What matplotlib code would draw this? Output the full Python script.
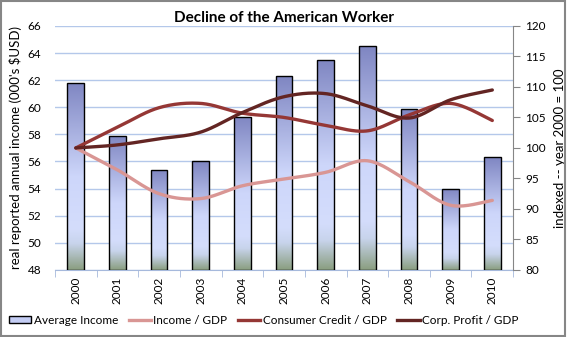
import numpy as np
import matplotlib
matplotlib.use("Agg")
import matplotlib.pyplot as plt
from matplotlib.colors import LinearSegmentedColormap
from matplotlib.patches import Rectangle
from matplotlib.lines import Line2D

plt.rcParams['font.family'] = ['Lato', 'DejaVu Sans']

years = ['2000', '2001', '2002', '2003', '2004', '2005', '2006', '2007', '2008', '2009', '2010']
avg_income = [61.8, 57.9, 55.4, 56.0, 59.3, 62.3, 63.5, 64.5, 59.9, 54.0, 56.3]
income_gdp = [100.0, 96.4, 92.5, 91.7, 93.8, 94.9, 96.0, 97.9, 94.5, 90.6, 91.4]
credit_gdp = [100.0, 103.4, 106.6, 107.3, 105.7, 105.0, 103.7, 102.8, 105.4, 107.3, 104.5]
profit_gdp = [100.0, 100.5, 101.5, 102.6, 105.8, 108.4, 108.9, 106.9, 104.9, 107.9, 109.5]


def smooth(xs, ys, n=30):
    """Bezier smoothing through every point (Catmull-Rom style tangents)."""
    p = np.column_stack([xs, ys]).astype(float)
    ext = np.vstack([p[0], p, p[-1]])
    out = []
    t = np.linspace(0, 1, n)[:, None]
    for i in range(len(p) - 1):
        p0, p1, p2, p3 = ext[i], ext[i + 1], ext[i + 2], ext[i + 3]
        c1 = p1 + (p2 - p0) / 6.0
        c2 = p2 - (p3 - p1) / 6.0
        seg = ((1 - t) ** 3) * p1 + 3 * ((1 - t) ** 2) * t * c1 + 3 * (1 - t) * t ** 2 * c2 + t ** 3 * p2
        out.append(seg if i == 0 else seg[1:])
    s = np.vstack(out)
    return s[:, 0], s[:, 1]


fig = plt.figure(figsize=(5.67, 3.37), dpi=100)
ax = fig.add_axes([0.097, 0.199, 0.808, 0.724])
ax2 = ax.twinx()

x = np.arange(len(years))
bar_w = 0.4
ax.set_xlim(-0.5, len(years) - 0.5)
ax.set_ylim(48, 66)
ax.set_yticks(np.arange(48, 67, 2))
ax.yaxis.grid(True, color='#b4c8ea', linewidth=1.0)
ax.set_axisbelow(True)

grad = LinearSegmentedColormap.from_list(
    'bar', [(0.0, '#8a9e80'), (0.14, '#c8d4ec'), (0.22, '#d4ddfc'),
            (0.5, '#cdd6fa'), (1.0, '#7f86c2')])
gimg = np.linspace(0, 1, 256)[:, None]
for xi, v in zip(x, avg_income):
    im = ax.imshow(gimg, cmap=grad, origin='lower', aspect='auto',
                   extent=[xi - bar_w / 2, xi + bar_w / 2, 48, v], zorder=2)
    rect = Rectangle((xi - bar_w / 2, 48), bar_w, v - 48, facecolor='none',
                     edgecolor='black', linewidth=1.0, zorder=3)
    ax.add_patch(rect)
    im.set_clip_path(rect)
ax.set_xlim(-0.5, len(years) - 0.5)
ax.set_ylim(48, 66)

ax.set_xticks(x)
ax.set_xticklabels(years, rotation=90, fontsize=8.5)
ax.set_xticks(np.arange(-0.5, len(years)), minor=True)
ax.tick_params(axis='x', which='major', length=0, pad=5)
ax.tick_params(axis='x', which='minor', length=5, color='#a6b9dc', direction='out')
ax.tick_params(axis='y', length=0, labelsize=8.5, pad=10)
for s in ['left', 'top', 'right']:
    ax.spines[s].set_visible(False)
ax.spines['bottom'].set_color('#a6b9dc')
ax.set_ylabel("real reported annual income (000's $USD)", fontsize=9.5, labelpad=4)

line_styles = [
    (income_gdp, '#d99694', 'Income / GDP'),
    (credit_gdp, '#953735', 'Consumer Credit / GDP'),
    (profit_gdp, '#632523', 'Corp. Profit / GDP'),
]
for vals, col, lab in line_styles:
    sx, sy = smooth(x, vals)
    ax2.plot(sx, sy, color=col, linewidth=2.4, solid_capstyle='round', label=lab)

ax2.set_ylim(80, 120)
ax2.set_yticks(np.arange(80, 121, 5))
ax2.set_xlim(-0.5, len(years) - 0.5)
for s in ['left', 'top', 'bottom']:
    ax2.spines[s].set_visible(False)
ax2.spines['right'].set_color('#868686')
ax2.tick_params(axis='y', length=5, color='#868686', labelsize=8.5, direction='out')
ax2.set_ylabel('indexed -- year 2000 = 100', fontsize=9.5, labelpad=6)

fig.text(0.5, 0.948, 'Decline of the American Worker', ha='center', va='center',
         fontsize=11, fontweight='bold')

handles = [Rectangle((0, 0), 1, 1, facecolor='#c4cdf4', edgecolor='black', linewidth=1.0)]
handles += [Line2D([0], [0], color=c, linewidth=2.4) for _, c, _ in line_styles]
labels = ['Average Income'] + [l for _, _, l in line_styles]
fig.legend(handles, labels, loc='center', bbox_to_anchor=(0.465, 0.05), ncol=4,
           frameon=False, fontsize=8.5, handlelength=1.9, handleheight=0.55,
           handletextpad=0.2, columnspacing=0.9, borderpad=0.2)

fig.patches.append(Rectangle((0.002, 0.003), 0.995, 0.994, transform=fig.transFigure,
                             fill=False, edgecolor='#868686', linewidth=1.5))

fig.savefig('out.png', dpi=100)
